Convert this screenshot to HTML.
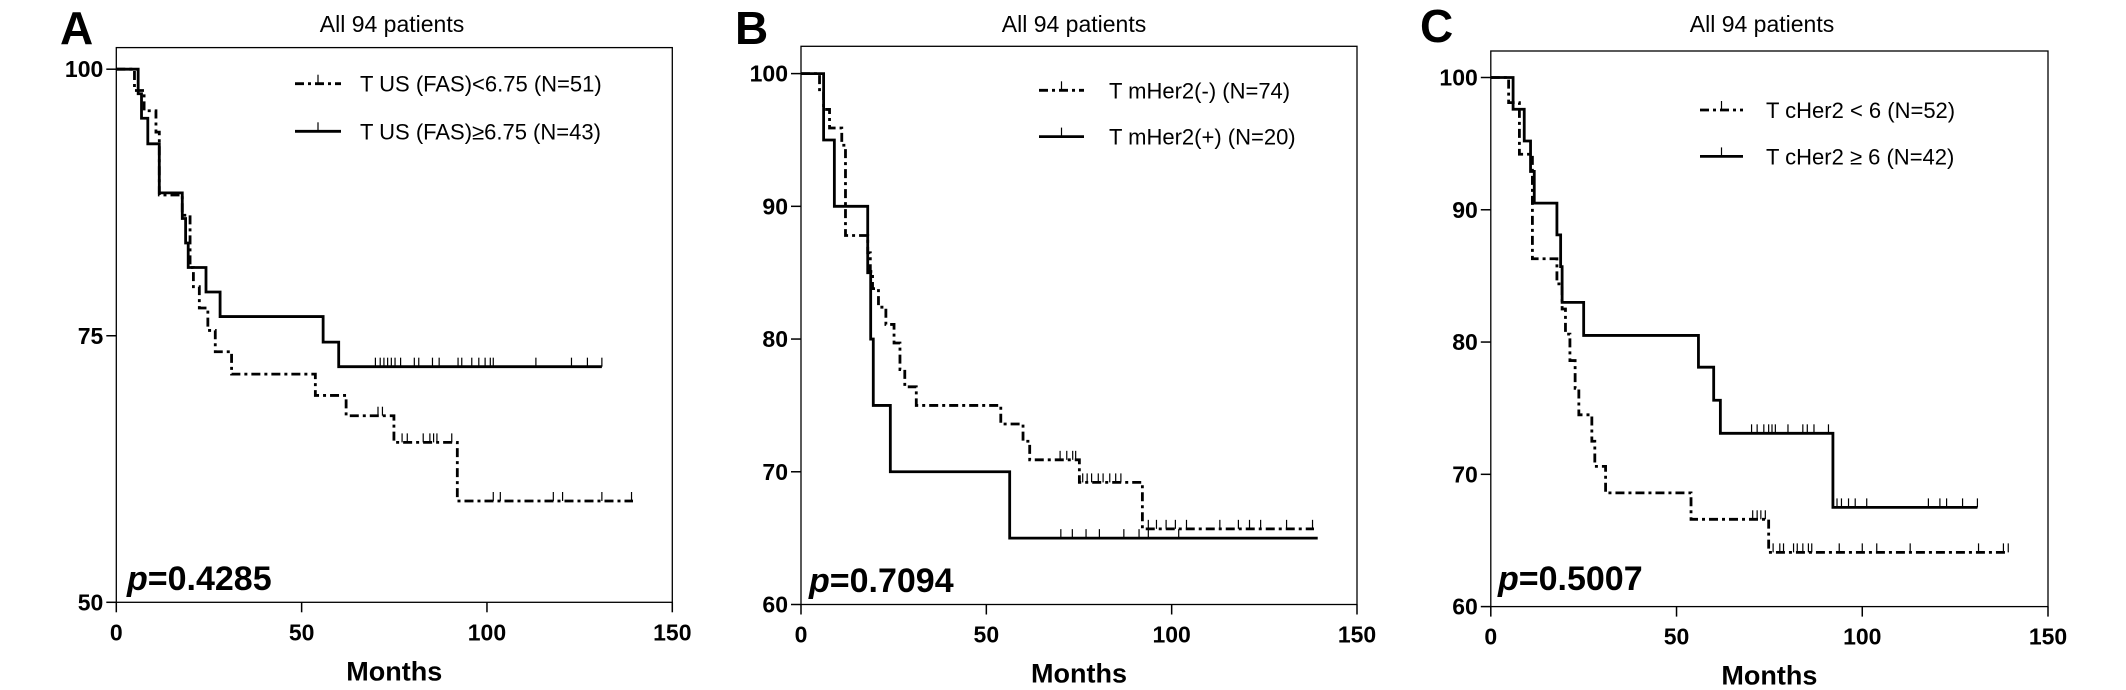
<!DOCTYPE html>
<html><head><meta charset="utf-8">
<style>
html,body{margin:0;padding:0;background:#fff;}
svg{display:block;font-family:"Liberation Sans",Arial,sans-serif;}
</style></head>
<body>
<svg id="fig" width="2126" height="690" viewBox="0 0 2126 690" xmlns="http://www.w3.org/2000/svg"></svg>
<script>
// ---------- Panel A data ----------
const aSolidTimes=[5.9,6.8,8.5,11.6,17.8,18.7,19.4,24.2,28,55.8,60];
const aSolidSurv=[97.7,95.4,93.0,88.4,86.0,83.7,81.4,79.1,76.8,74.4,72.1];
const aSolidEnd=131;
const aSolidCens=[69.9,71.2,72.2,73.2,74.2,75.2,76.7,80.4,81.6,85.3,87.1,92.2,93.2,95.9,97.8,99.5,100.9,101.7,113.2,122.8,127.1,131];
const aDashTimes=[4.9,7.5,10.7,11.6,17.8,19.9,20.8,22.4,24.7,26.7,31.1,53.7,62,74.9,92];
const aDashSurv=[98.0,96.1,94.1,88.2,86.3,81.4,79.6,77.6,75.5,73.5,71.4,69.4,67.5,65.0,59.5];
const aDashEnd=139.4;
const aDashCens=[70.6,71.8,77.1,78.5,82.8,84.6,85.6,86.5,90.5,101.7,103.6,117.9,120.4,131,139];
const aYTicks=[50,75,100];
// ---------- Panel B data ----------
const bSolidTimes=[6.1,9.0,18.0,18.8,19.5,24.1,56.3];
const bSolidSurv=[95,90,85,80,75,70,65];
const bSolidEnd=139.4;
const bSolidCens=[70.1,73.2,76.9,80.5,87.1,91.2,93.7,101.9];
const bDashTimes=[5,6.1,7.7,11,12,18,18.7,19.3,20.9,22.9,25.1,26.7,28,31.1,53.9,59.9,61.7,75.1,92.1];
const bDashSurv=[98.6,97.3,95.9,94.6,87.8,86.5,85.1,83.8,82.4,81.1,79.7,77.7,76.4,75.0,73.6,72.3,70.9,69.2,65.7];
const bDashEnd=138.4;
const bDashCens=[69.9,71.7,73.3,74.1,76,77.2,78.4,80.2,81.5,83.3,84.9,86.3,93.7,95.9,98.5,101,104,113,118,121,124,131,138];
const bYTicks=[60,70,80,90,100];
// ---------- Panel C data ----------
const cSolidTimes=[6.0,9,10.7,11.7,17.8,18.8,19.2,25,55.9,60,61.8,92.1];
const cSolidSurv=[97.6,95.2,92.9,90.5,88.1,85.7,83.0,80.5,78.1,75.6,73.1,67.5];
const cSolidEnd=131;
const cSolidCens=[70.2,71.7,73.5,74.8,75.7,76.6,80,84,85.2,87,90.9,93.2,94.4,96.3,98.1,101.2,117.8,120.9,122.7,127,131];
const cDashTimes=[4.8,7.7,11.2,17.8,19.2,20.1,21.3,22.7,23.7,27.2,28,30.9,53.9,74.8];
const cDashSurv=[98.1,94.2,86.3,84.4,82.5,80.6,78.6,76.5,74.5,72.5,70.6,68.6,66.6,64.1];
const cDashEnd=139.3;
const cDashCens=[70.5,71.7,72.7,73.9,76,77.8,78.8,81.5,82.5,84,85.5,86.4,93.8,100,103.9,112.9,131.3,138,139.3];
const cYTicks=[60,70,80,90,100];
const xTicks=[0,50,100,150];

const NS="http://www.w3.org/2000/svg";
const svg=document.getElementById('fig');
function mk(tag,attrs,parent){const e=document.createElementNS(NS,tag);for(const k in attrs)e.setAttribute(k,attrs[k]);(parent||svg).appendChild(e);return e;}

const panels=[
 {id:'a',letter:'A',lx:60,ly:44,L:116.3,R:672.3,T:47.6,B:602.3,y0:69.2,y1:602.3,vTop:100,vBot:50,yT:aYTicks,
  solid:[aSolidTimes,aSolidSurv,aSolidEnd,aSolidCens],dash:[aDashTimes,aDashSurv,aDashEnd,aDashCens],
  title:392,legX1:295,legX2:341,legY1:83.7,legY2:131.3,legTX:360,leg1:'T US (FAS)<6.75 (N=51)',leg2:'T US (FAS)\u22656.75 (N=43)',px:127,py:590,p:'0.4285'},
 {id:'b',letter:'B',lx:735,ly:44,L:801,R:1357,T:46.3,B:604.5,y0:73.6,y1:604.5,vTop:100,vBot:60,yT:bYTicks,
  solid:[bSolidTimes,bSolidSurv,bSolidEnd,bSolidCens],dash:[bDashTimes,bDashSurv,bDashEnd,bDashCens],
  title:1074,legX1:1039,legX2:1084,legY1:90.3,legY2:136.6,legTX:1109,leg1:'T mHer2(-) (N=74)',leg2:'T mHer2(+) (N=20)',px:809,py:592,p:'0.7094'},
 {id:'c',letter:'C',lx:1420,ly:42,L:1490.8,R:2048,T:51,B:606.6,y0:77.5,y1:606.6,vTop:100,vBot:60,yT:cYTicks,
  solid:[cSolidTimes,cSolidSurv,cSolidEnd,cSolidCens],dash:[cDashTimes,cDashSurv,cDashEnd,cDashCens],
  title:1762,legX1:1700,legX2:1743,legY1:110,legY2:156.4,legTX:1766,leg1:'T cHer2 < 6 (N=52)',leg2:'T cHer2 \u2265 6 (N=42)',px:1498,py:590,p:'0.5007'}
];
const DASH='9,4,3,4';

panels.forEach(P=>{
  const g=mk('g',{});
  
  
  const xs=m=>P.L+(P.R-P.L)*m/150;
  const ys=v=>P.y1+(P.y0-P.y1)*(v-P.vBot)/(P.vTop-P.vBot);
  const t=mk('text',{x:P.lx,y:P.ly,'font-size':46,'font-weight':'bold'},g);t.textContent=P.letter;
  
  const ti=mk('text',{x:P.title,y:32,'font-size':23,'text-anchor':'middle'},g);ti.textContent='All 94 patients';
  
  const fr=mk('rect',{x:P.L,y:P.T,width:P.R-P.L,height:P.B-P.T,fill:'none',stroke:'#000','stroke-width':1.3},g);
  
  P.yT.forEach(v=>{
    const y=ys(v);
    const l=mk('line',{x1:P.L-10,x2:P.L,y1:y,y2:y,stroke:'#000','stroke-width':1.5},g);
    
    const tx=mk('text',{x:P.L-13,y:y+8,'font-size':23,'font-weight':'bold','text-anchor':'end'},g);tx.textContent=v;
    
  });
  xTicks.forEach(m=>{
    const x=xs(m);
    const l=mk('line',{x1:x,x2:x,y1:P.B,y2:P.B+10,stroke:'#000','stroke-width':1.5},g);
    
    const tx=mk('text',{x:x,y:P.B+38,'font-size':23,'font-weight':'bold','text-anchor':'middle'},g);tx.textContent=m;
    
  });
  const xt=mk('text',{x:(P.L+P.R)/2,y:P.B+78,'font-size':27,'font-weight':'bold','text-anchor':'middle'},g);xt.textContent='Months';
  
  function curve(d,dashed,name){
    const [T,S,end,C]=d;
    let path='M'+xs(0)+','+ys(100);
    for(let i=0;i<T.length;i++){path+=' H'+xs(T[i])+' V'+ys(S[i]);}
    path+=' H'+xs(end);
    const a={d:path,fill:'none',stroke:'#000','stroke-width':2.8};
    if(dashed)a['stroke-dasharray']=DASH;
    const p=mk('path',a,g);
    
    C.forEach(c=>{
      let s=100;for(let i=0;i<T.length;i++)if(T[i]<=c)s=S[i];
      const y=ys(s);
      const l=mk('line',{x1:xs(c),x2:xs(c),y1:y,y2:y-9,stroke:'#000','stroke-width':1.2},g);
      
    });
  }
  curve(P.dash,true,'curve-low-group');
  curve(P.solid,false,'curve-high-group');
  [[P.legY1,true,P.leg1],[P.legY2,false,P.leg2]].forEach(([y,d,txt])=>{
    const a={x1:P.legX1,x2:P.legX2,y1:y,y2:y,stroke:'#000','stroke-width':2.8};
    if(d)a['stroke-dasharray']=DASH;
    const l=mk('line',a,g);
    const c=mk('line',{x1:(P.legX1+P.legX2)/2,x2:(P.legX1+P.legX2)/2,y1:y,y2:y-9,stroke:'#000','stroke-width':1.2},g);
    
    const tx=mk('text',{x:P.legTX,y:y+8,'font-size':22},g);tx.textContent=txt;
    
  });
  const pt=mk('text',{x:P.px,y:P.py,'font-size':34,'font-weight':'bold'},g);
  const it=mk('tspan',{'font-style':'italic'},pt);it.textContent='p';
  const rest=mk('tspan',{},pt);rest.textContent='='+P.p;
  
});
</script>
</body></html>
